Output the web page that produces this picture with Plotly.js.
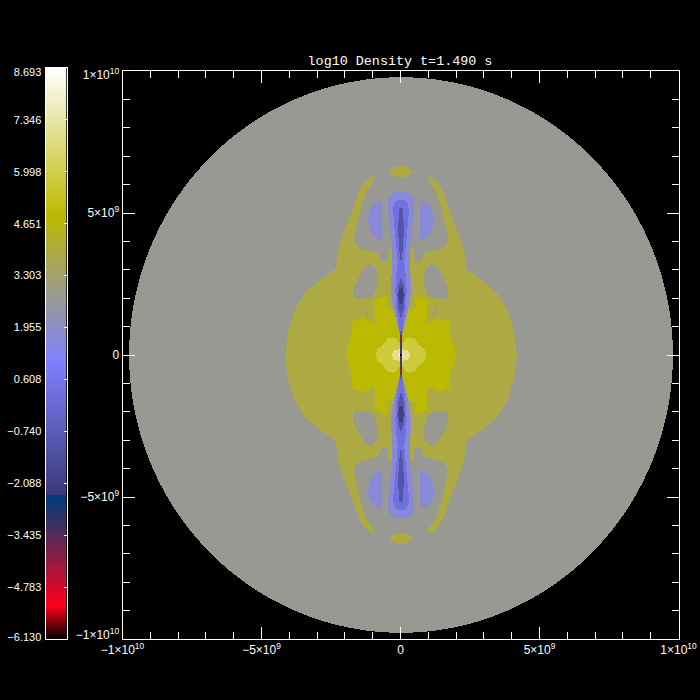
<!DOCTYPE html>
<html>
<head>
<meta charset="utf-8">
<script src="https://cdn.plot.ly/plotly-3.0.1.min.js"></script>
<style>html,body{margin:0;padding:0;background:#000}</style>
</head>
<body>
<div id="chart" style="width:700px;height:700px"></div>
<script>
// Colour table: log10 density level -> colour
const scaleLevels = [-6.13, -5.25, -3.04, -2.39, -2.36, 1.1, 2.73, 4.88, 8.693];
const scaleColors = ['#000000', '#ff0018', '#333366', '#003c78', '#3a3a78', '#8080ff', '#999993', '#bdb900', '#ffffff'];
const colorbarTicks = [8.693, 7.346, 5.998, 4.651, 3.303, 1.955, 0.608, -0.740, -2.088, -3.435, -4.783, -6.130];
const colorbarLabels = ['8.693', '7.346', '5.998', '4.651', '3.303', '1.955', '0.608', '−0.740', '−2.088', '−3.435', '−4.783', '−6.130'];
const axisTicks = [-1e10, -5e9, 0, 5e9, 1e10];
const axisLabels = ['−1×10<sup>10</sup>', '−5×10<sup>9</sup>', '0', '5×10<sup>9</sup>', '1×10<sup>10</sup>'];

// Density regions: one quadrant, x and y in units of 1e9, mirrored about both axes
const starRadius = 9.78;
const ambientLevel = 2.73;
const oliveOutline = [[0,3.74],[.44,3.74],[.49,3.29],[.71,3.29],[.83,3.58],[1.19,3.67],[1.55,3.79],[1.70,4.05],[1.61,4.52],[1.43,5.22],[1.25,5.75],[.95,6.16],[1.01,6.30],[1.31,6.10],[1.55,5.69],[1.79,4.99],[2.03,4.40],[2.27,3.70],[2.35,3.02],[2.99,2.58],[3.47,2.17],[3.83,1.58],[4.06,.88],[4.15,.18],[4.16,0],[0,0]];
const capOutline = [[0,6.67],[.20,6.63],[.42,6.48],[.35,6.36],[.17,6.28],[0,6.24]];
const voidOutline = [[1.07,3.23],[1.31,3.09],[1.55,2.70],[1.70,2.35],[1.70,2.00],[1.37,1.97],[1.01,2.05],[.83,2.52],[.85,2.99]];
const voidTail = [[1.16,1.47],[1.31,1.64],[1.34,1.58],[1.21,1.44]];
const sideLobe = [[.71,5.42],[.95,5.34],[1.13,5.05],[1.21,4.81],[1.13,4.46],[.95,4.17],[.77,4.05],[.68,4.11],[.68,4.87]];
const brightCore = [[0,1.58],[.43,1.58],[.52,2.11],[.94,1.94],[.94,1.12],[1.33,1.31],[1.77,1.17],[1.75,.70],[1.93,.29],[1.97,0],[0,0]];
const brightNotch = [[.47,1.80],[.53,1.80],[.53,1.70],[.47,1.70]];
const lightCore = [[0,.40],[.10,.45],[.18,.59],[.30,.62],[.48,.59],[.60,.42],[.72,.30],[.86,.20],[.90,.05],[.90,0],[0,0]];
const paleCore = [[0,.18],[.06,.20],[.24,.18],[.32,.06],[.33,0],[0,0]];
const whiteCore = [[0,.07],[.08,.07],[.08,0],[0,0]];
const jetOuter = [[0,5.75],[.25,5.73],[.46,5.54],[.47,5.11],[.40,4.40],[.32,3.81],[.31,3.23],[.36,2.52],[.34,2.05],[.23,1.47],[.11,1.00],[.04,.70],[.02,.41],[0,0]];
const jetMiddle = [[0,5.46],[.20,5.42],[.29,5.16],[.24,4.52],[.17,3.81],[.12,3.23],[.19,2.64],[.20,2.29],[.19,1.82],[.13,1.35],[.06,.88],[.02,.59],[0,.29]];
const jetUpperStreak = [[0,5.20],[.07,5.11],[.10,4.52],[.08,3.81],[.02,3.35],[0,3.23]];
const jetLowerBlob = [[0,2.70],[.08,2.52],[.13,2.17],[.11,1.70],[.05,1.47],[0,1.29]];
const jetNearCore = [[0,1.0],[.04,.65],[.04,.18],[0,.18]];
const jetDarkest = [[0,2.38],[.07,2.29],[.10,2.05],[.06,1.84],[0,1.76]];
const axisLine = [[0,.72],[.03,.72],[.03,0],[0,0]];
const redSpot = [[0,.60],[.03,.60],[.03,.54],[0,.54]];
const centreSpot = [[0,.04],[.03,.04],[.03,0],[0,0]];

// Painted in this order, each with its log10 density
const regions = [oliveOutline, capOutline, voidOutline, voidTail, sideLobe, brightCore, brightNotch, lightCore, paleCore, whiteCore,
                 jetOuter, jetMiddle, jetUpperStreak, jetLowerBlob, jetNearCore, jetDarkest, axisLine, redSpot, centreSpot];
const regionLevels = [3.9, 3.9, 2.73, 2.73, 1.66, 4.85, 3.9, 5.78, 7.1, 8.3,
                      1.66, 0.31, -1.06, -1.06, -1.06, -2.1, -2.2, -5.2, -6.1];

function inside(px, py, poly) {
  let hit = false;
  for (let i = 0, j = poly.length - 1; i < poly.length; j = i++) {
    const a = poly[i], b = poly[j];
    if ((a[1] > py) !== (b[1] > py) && px < (b[0] - a[0]) * (py - a[1]) / (b[1] - a[1]) + a[0]) hit = !hit;
  }
  return hit;
}

const NX = 556, NY = 568;
const gridX = [], gridY = [], field = [];
for (let i = 0; i < NX; i++) gridX.push((-10 + (i + .5) * 20 / NX) * 1e9);
for (let j = 0; j < NY; j++) gridY.push((-10 + (j + .5) * 20 / NY) * 1e9);
for (let j = 0; j < NY; j++) {
  const row = [];
  const ay = Math.abs(gridY[j]) / 1e9;
  for (let i = 0; i < NX; i++) {
    const ax = Math.abs(gridX[i]) / 1e9;
    if (ax * ax + ay * ay > starRadius * starRadius) { row.push(null); continue; }
    let v = ambientLevel;
    if (ay < 7 && ax < 4.3) {
      for (let k = 0; k < regions.length; k++) if (inside(ax, ay, regions[k])) v = regionLevels[k];
    }
    row.push(v);
  }
  field.push(row);
}

const zMin = scaleLevels[0], zMax = scaleLevels[scaleLevels.length - 1];
const colorscale = scaleLevels.map((l, i) => [(l - zMin) / (zMax - zMin), scaleColors[i]]);

const labelFont = {family: 'Liberation Sans', size: 12, color: '#ffffff'};

const traces = [
  {type: 'heatmap', x: gridX, y: gridY, z: field, coloraxis: 'coloraxis', hoverinfo: 'skip'},
  {type: 'heatmap', x: [0, 1], y: [zMin, zMax], z: [[zMin, zMin], [zMax, zMax]], zsmooth: 'best',
   coloraxis: 'coloraxis', xaxis: 'x2', yaxis: 'y2', hoverinfo: 'skip'},
  {type: 'scatter', x: [null], y: [null], xaxis: 'x2', yaxis: 'y3', mode: 'markers', showlegend: false, hoverinfo: 'skip'}
];

const mainAxis = {
  range: [-1e10, 1e10], tickmode: 'array', tickvals: axisTicks, ticktext: axisLabels,
  ticks: 'inside', ticklen: 12, tickwidth: 1, tickcolor: '#ffffff',
  showgrid: false, zeroline: false, showline: true, linecolor: '#ffffff', linewidth: 1, mirror: 'allticks',
  tickfont: labelFont,
  minor: {tickmode: 'linear', tick0: 0, dtick: 1e9, ticks: 'inside', ticklen: 7, tickwidth: 1, tickcolor: '#ffffff', showgrid: false}
};

const layout = {
  width: 700, height: 700, autosize: false,
  margin: {l: 0, r: 0, t: 0, b: 0, pad: 0},
  paper_bgcolor: '#000000', plot_bgcolor: '#000000',
  showlegend: false,
  title: {text: 'log10 Density t=1.490 s', x: 400 / 700, xanchor: 'center', y: 1 - 60 / 700, yanchor: 'middle',
          font: {family: 'Liberation Mono', size: 13.4, color: '#ffffff'}},
  coloraxis: {cmin: zMin, cmax: zMax, colorscale: colorscale, showscale: false},
  xaxis: Object.assign({}, mainAxis, {domain: [122.5 / 700, 678.5 / 700], anchor: 'y'}),
  yaxis: Object.assign({}, mainAxis, {domain: [61 / 700, 629 / 700], anchor: 'x'}),
  xaxis2: {domain: [45.5 / 700, 66.5 / 700], anchor: 'y2', range: [0, 1], showticklabels: false, ticks: '',
           showgrid: false, zeroline: false, showline: true, linecolor: '#ffffff', linewidth: 1, mirror: true},
  yaxis2: {domain: [61 / 700, 632 / 700], anchor: 'x2', range: [zMin, zMax], tickmode: 'array',
           tickvals: colorbarTicks, ticktext: colorbarLabels, ticks: '', tickfont: {family: 'Liberation Sans', size: 11, color: '#ffffff'},
           ticklabelstandoff: 1, showgrid: false, zeroline: false, showline: true, linecolor: '#ffffff', linewidth: 1, mirror: true},
  yaxis3: {overlaying: 'y2', side: 'right', anchor: 'x2', range: [zMin, zMax], tickmode: 'array', tickvals: colorbarTicks,
           showticklabels: false, ticks: 'inside', ticklen: 3, tickwidth: 1, tickcolor: '#ffffff',
           showgrid: false, zeroline: false}
};

Plotly.newPlot('chart', traces, layout, {displayModeBar: false, staticPlot: true}).then(function (gd) {
  // The reference nudges the end labels of the vertical scales inward
  function nudge(sel, first, last, down, up) {
    const labels = gd.querySelectorAll(sel);
    if (!labels.length) return;
    const shift = function (el, dy) { el.setAttribute('transform', (el.getAttribute('transform') || '') + ' translate(0,' + dy + ')'); };
    shift(labels[first], down);
    shift(labels[last < 0 ? labels.length + last : last], up);
  }
  nudge('.ytick text', 0, -1, -4, 4);
  nudge('.y2tick text', 0, -1, 4, -2);
});
</script>
</body>
</html>
